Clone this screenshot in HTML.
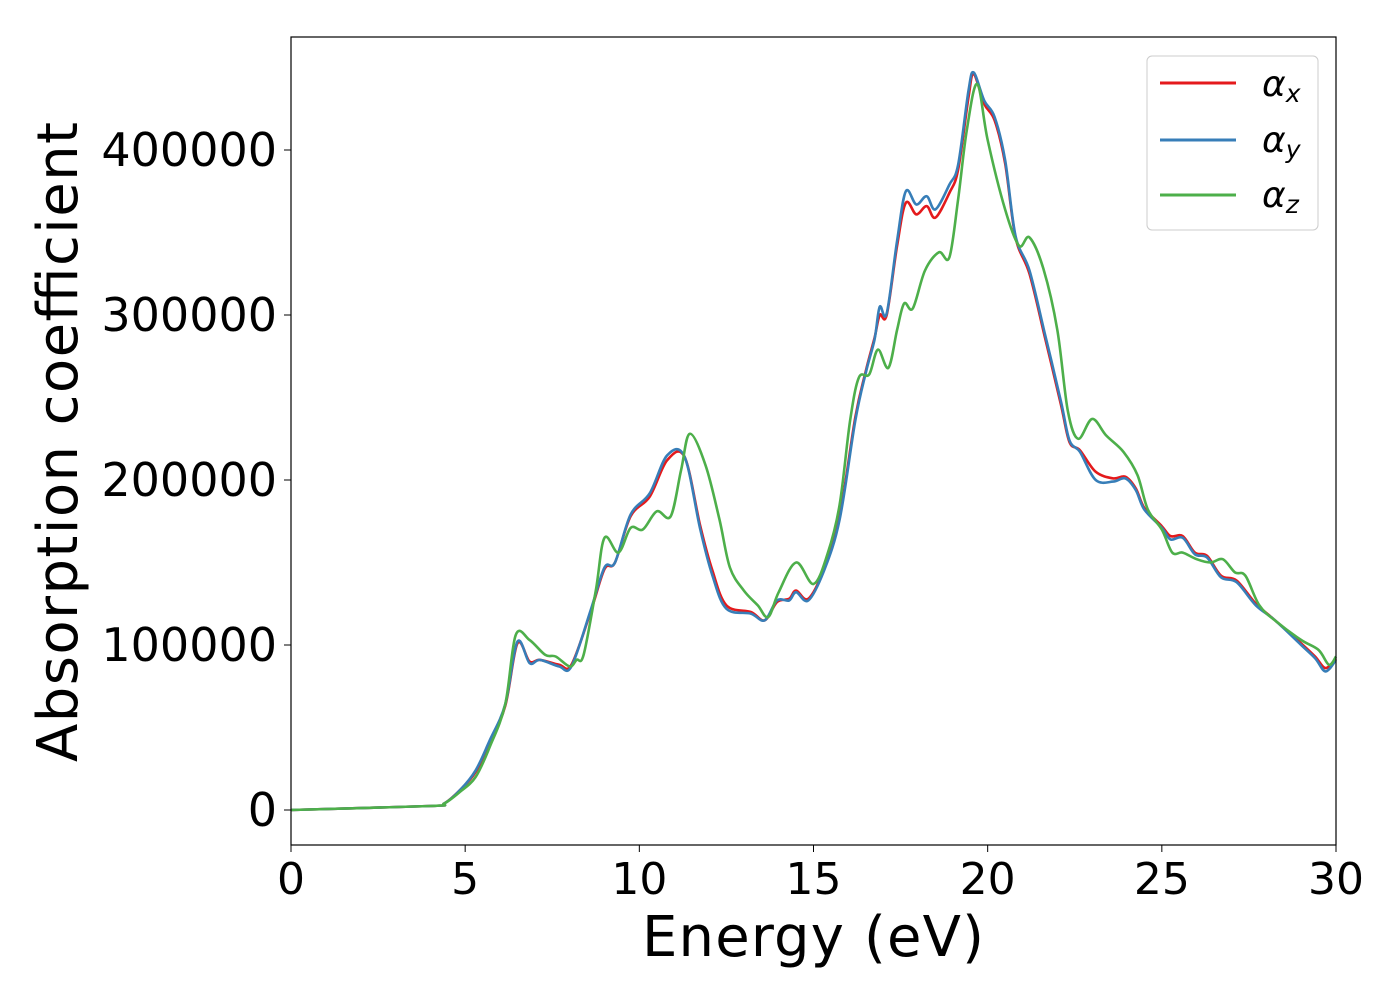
<!DOCTYPE html>
<html><head><meta charset="utf-8"><style>
html,body{margin:0;padding:0;background:#fff;}
svg{display:block;font-family:"DejaVu Sans","Liberation Sans",sans-serif;}
</style></head><body>
<svg id="chart" width="1400" height="1000" viewBox="0 0 1400 1000">
<rect x="0" y="0" width="1400" height="1000" fill="#fff"/>
<g id="series"></g>
<rect x="291" y="37" width="1045" height="808" fill="none" stroke="#000" stroke-width="1.2"/>
<g id="xticks"></g>
<g id="yticks"></g>
<text x="813" y="956" font-size="56" text-anchor="middle" textLength="342">Energy (eV)</text>
<text transform="translate(77,442) rotate(-90)" font-size="56" text-anchor="middle" textLength="640">Absorption coefficient</text>
<g>
<rect x="1147" y="56" width="171" height="174" rx="5" fill="#fff" fill-opacity="0.8" stroke="#ccc" stroke-width="1"/>
<g><line x1="1160" y1="83" x2="1236" y2="83" stroke="#e41a1c" stroke-width="3"/><text x="1262" y="96" font-size="36" font-style="italic">α<tspan font-size="25" dy="6">x</tspan></text></g>
<g><line x1="1160" y1="140" x2="1236" y2="140" stroke="#377eb8" stroke-width="3"/><text x="1262" y="152" font-size="36" font-style="italic">α<tspan font-size="25" dy="6">y</tspan></text></g>
<g><line x1="1160" y1="195" x2="1236" y2="195" stroke="#4daf4a" stroke-width="3"/><text x="1262" y="207" font-size="36" font-style="italic">α<tspan font-size="25" dy="6">z</tspan></text></g>
</g>
</svg>
<script>
const xTickVals=[0,5,10,15,20,25,30];
const yTickVals=[0,100000,200000,300000,400000];
const eXY=[0,4,4.4,4.85,5.3,5.7,6.15,6.5,6.85,7.15,7.7,8.05,8.6,9.0,9.3,9.75,10.3,10.8,11.3,11.75,12.1,12.5,13.2,13.6,13.95,14.3,14.5,14.85,15.3,15.75,16.2,16.5,16.75,16.9,17.1,17.4,17.65,17.95,18.25,18.5,18.9,19.15,19.45,19.6,19.9,20.2,20.5,20.8,21.2,21.65,22.1,22.35,22.65,23.1,23.6,23.95,24.25,24.5,25.0,25.25,25.6,25.95,26.3,26.7,27.15,27.7,28.25,29.0,29.4,29.7,30];
const alphaY=[0,2.4,4,12,24,42,64,102,89,91,87,87,121,147,150,179,192,215,214,170,142,122,119,115,127,127,132,127,145,176,236,265,285,305,301,345,375,367,372,364,379,391,436,447,430,420,394,348,327,288,248,224,217,200,199,201,194,182,171,164,165,155,153,141,138,124,115,100,92,84,91];
const alphaX=[0,2.4,4,12,23,41,63,101,90,91,88,88,120,146,150,178,190,212,214,172,145,124,120,115,126,128,133,128,146,178,238,266,286,300,300,342,368,361,366,359,374,388,432,446,428,418,392,347,325,286,246,223,218,205,201,202,195,183,172,166,166,156,154,142,139,125,115,101,93,86,92];
const eZ=[0,4,4.4,4.85,5.3,5.7,6.15,6.45,6.85,7.3,7.6,8.0,8.2,8.4,8.75,9.0,9.4,9.75,10.1,10.5,10.9,11.2,11.45,11.9,12.3,12.6,13.0,13.4,13.7,14.0,14.5,15.0,15.4,15.75,16.05,16.3,16.6,16.85,17.15,17.4,17.6,17.85,18.2,18.6,18.9,19.15,19.4,19.7,20.0,20.5,20.9,21.2,21.6,22.0,22.3,22.6,23.0,23.4,23.9,24.3,24.6,25.0,25.3,25.6,26.0,26.4,26.75,27.1,27.4,27.8,28.3,29.0,29.5,29.8,30];
const alphaZ=[0,2.4,4,11,20,38,64,106,103,94,93,87,91,94,133,165,156,171,170,181,178,206,228,209,176,147,133,124,117,132,150,137,155,185,236,262,264,279,268,291,307,304,327,338,335,370,412,440,406,364,342,347,328,291,242,225,237,227,217,203,182,170,156,156,152,150,152,144,142,124,114,103,97,88,93];
const NS='http://www.w3.org/2000/svg';
const x0=291,x1=1336,yBase=810,pxPer100k=165;
function sx(e){return x0+(e/30)*(x1-x0);}
function sy(v){return yBase-v/100000*pxPer100k;}
function pathFor(es,vs){
  const p=es.map((e,i)=>[sx(e),sy(vs[i]*1000)]);
  let d='M'+p[0][0].toFixed(1)+','+p[0][1].toFixed(1);
  for(let i=0;i<p.length-1;i++){
    const a=p[Math.max(0,i-1)],b=p[i],c=p[i+1],n=p[Math.min(p.length-1,i+2)];
    const c1=[b[0]+(c[0]-a[0])/6,b[1]+(c[1]-a[1])/6],c2=[c[0]-(n[0]-b[0])/6,c[1]-(n[1]-b[1])/6];
    d+=' C'+c1.map(v=>v.toFixed(1))+' '+c2.map(v=>v.toFixed(1))+' '+c[0].toFixed(1)+','+c[1].toFixed(1);
  }
  return d;
}
const g=document.getElementById('series');
[[eXY,alphaX,'#e41a1c','alpha-x-line'],[eXY,alphaY,'#377eb8','alpha-y-line'],[eZ,alphaZ,'#4daf4a','alpha-z-line']].forEach(s=>{
  const p=document.createElementNS(NS,'path');
  p.setAttribute('d',pathFor(s[0],s[1]));
  p.setAttribute('fill','none');p.setAttribute('stroke',s[2]);p.setAttribute('stroke-width','2.6');
  
  
  g.appendChild(p);
});
const gx=document.getElementById('xticks');
xTickVals.forEach(v=>{
  const l=document.createElementNS(NS,'line');
  l.setAttribute('x1',sx(v));l.setAttribute('x2',sx(v));l.setAttribute('y1',845);l.setAttribute('y2',852);l.setAttribute('stroke','#000');
  
  
  gx.appendChild(l);
  const t=document.createElementNS(NS,'text');
  t.setAttribute('x',sx(v));t.setAttribute('y',894);t.setAttribute('font-size','44');t.setAttribute('text-anchor','middle');
  t.textContent=v;
  
  
  gx.appendChild(t);
});
const gy=document.getElementById('yticks');
yTickVals.forEach(v=>{
  const l=document.createElementNS(NS,'line');
  l.setAttribute('x1',284);l.setAttribute('x2',291);l.setAttribute('y1',sy(v));l.setAttribute('y2',sy(v));l.setAttribute('stroke','#000');
  
  
  gy.appendChild(l);
  const t=document.createElementNS(NS,'text');
  t.setAttribute('x',277);t.setAttribute('y',sy(v)+16);t.setAttribute('font-size','46');t.setAttribute('text-anchor','end');
  t.textContent=v;
  
  
  gy.appendChild(t);
});
</script>
</body></html>
